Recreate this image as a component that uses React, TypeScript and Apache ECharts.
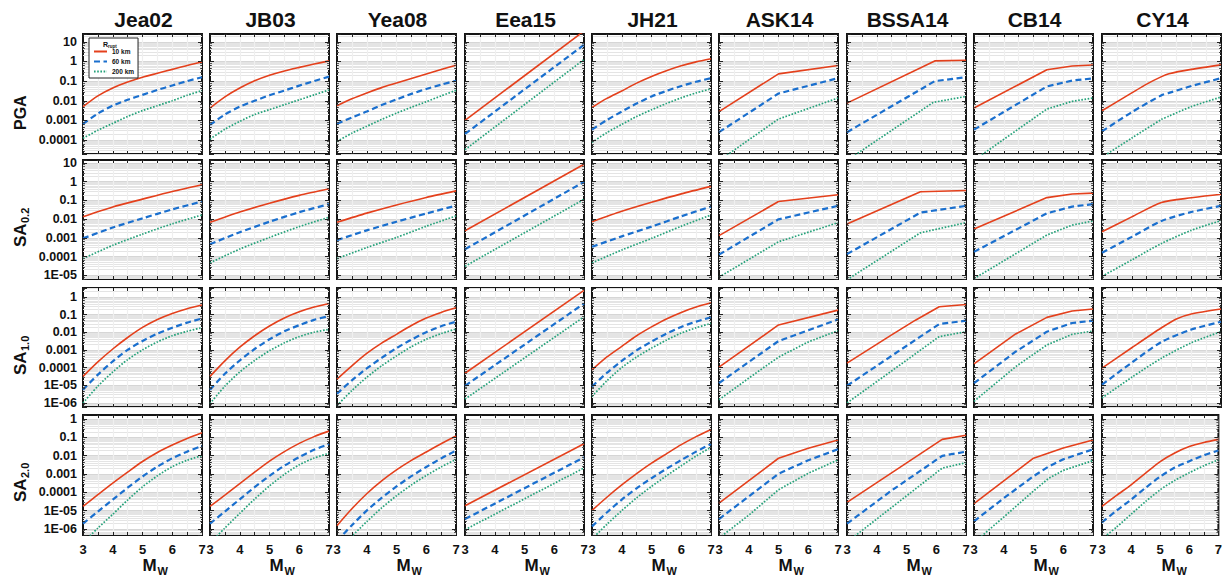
import React, { useEffect, useRef } from 'react';
import * as echarts from 'echarts';

// ---------- categories ----------
const MODELS = ['Jea02', 'JB03', 'Yea08', 'Eea15', 'JH21', 'ASK14', 'BSSA14', 'CB14', 'CY14'];
const ROW_NAMES = ['PGA', 'SA0.2', 'SA1.0', 'SA2.0'];
const DISTANCES = ['10 km', '60 km', '200 km'];
const X_TICK_LABELS = [3, 4, 5, 6, 7];
// axis extents, log10 of g
const Y_MIN_EXP = [-4.71, -5.2, -6.23, -6.33];
const Y_MAX_EXP = [1.4, 1.16, 0.5, 0.22];

// ---------- data: [Mw, log10(SA in g)] for Rrupt = 10, 60, 200 km ----------
const Jea02_PGA = [
  [[3, -2.3], [3.5, -1.75], [4, -1.35], [4.5, -1.05], [5, -0.8], [5.5, -0.6], [6, -0.4], [6.5, -0.2], [7, -0.03]],
  [[3, -3.18], [3.5, -2.65], [4, -2.25], [4.5, -1.95], [5, -1.7], [5.5, -1.45], [6, -1.22], [6.5, -1.0], [7, -0.8]],
  [[3, -3.91], [3.5, -3.5], [4, -3.15], [4.5, -2.8], [5, -2.5], [5.5, -2.25], [6, -2.0], [6.5, -1.72], [7, -1.48]],
];
const JB03_PGA = [
  [[3, -2.37], [3.5, -1.8], [4, -1.35], [4.5, -0.98], [5, -0.7], [5.5, -0.48], [6, -0.3], [6.5, -0.13], [7, 0.03]],
  [[3, -3.23], [3.5, -2.7], [4, -2.3], [4.5, -2.0], [5, -1.72], [5.5, -1.48], [6, -1.23], [6.5, -1.0], [7, -0.77]],
  [[3, -3.95], [3.5, -3.45], [4, -3.05], [4.5, -2.7], [5, -2.45], [5.5, -2.2], [6, -1.95], [6.5, -1.7], [7, -1.45]],
];
const Yea08_PGA = [
  [[3, -2.25], [3.5, -1.9], [4, -1.6], [4.5, -1.33], [5, -1.1], [5.5, -0.87], [6, -0.64], [6.5, -0.41], [7, -0.19]],
  [[3, -3.17], [3.5, -2.85], [4, -2.55], [4.5, -2.22], [5, -1.93], [5.5, -1.65], [6, -1.4], [6.5, -1.18], [7, -0.98]],
  [[3, -4.07], [3.5, -3.65], [4, -3.3], [4.5, -2.95], [5, -2.63], [5.5, -2.33], [6, -2.05], [6.5, -1.75], [7, -1.47]],
];
const Eea15_PGA = [
  [[3, -3.0], [7, 1.55]],
  [[3, -3.69], [7, 0.85]],
  [[3, -4.49], [7, 0.1]],
];
const JH21_PGA = [
  [[3, -2.34], [3.5, -1.88], [4, -1.5], [4.5, -1.1], [5, -0.76], [5.5, -0.47], [6, -0.22], [6.5, -0.02], [7, 0.14]],
  [[3, -3.47], [3.5, -2.98], [4, -2.55], [4.5, -2.14], [5, -1.78], [5.5, -1.5], [6, -1.25], [6.5, -1.03], [7, -0.85]],
  [[3, -4.12], [3.5, -3.62], [4, -3.2], [4.5, -2.8], [5, -2.46], [5.5, -2.14], [6, -1.85], [6.5, -1.6], [7, -1.39]],
];
const ASK14_PGA = [
  [[3, -2.55], [5, -0.63], [7, -0.2]],
  [[3, -3.6], [5, -1.63], [7, -0.85]],
  [[3, -5.05], [5, -2.93], [7, -1.86]],
];
const BSSA14_PGA = [
  [[3, -2.12], [5.95, 0.03], [7, 0.06]],
  [[3, -3.6], [5.95, -1.0], [7, -0.8]],
  [[3, -5.04], [5.9, -2.08], [7, -1.78]],
];
const CB14_PGA = [
  [[3, -2.37], [5.45, -0.42], [6.3, -0.23], [7, -0.18]],
  [[3, -3.47], [5.45, -1.27], [6.3, -0.97], [7, -0.86]],
  [[3, -5.03], [5.45, -2.42], [6.3, -2.03], [7, -1.86]],
];
const CY14_PGA = [
  [[3, -2.51], [4, -1.6], [4.5, -1.15], [5, -0.77], [5.25, -0.62], [6, -0.4], [7, -0.17]],
  [[3, -3.56], [4, -2.58], [5, -1.72], [5.25, -1.6], [6, -1.25], [7, -0.85]],
  [[3, -4.88], [4, -3.9], [5, -2.95], [5.25, -2.78], [6, -2.3], [7, -1.81]],
];

const Jea02_SA02 = [
  [[3, -1.87], [4, -1.35], [5, -0.93], [6, -0.52], [7, -0.16]],
  [[3, -3.03], [4, -2.45], [5, -1.96], [6, -1.48], [7, -1.06]],
  [[3, -4.11], [4, -3.4], [5, -2.8], [6, -2.25], [7, -1.78]],
];
const JB03_SA02 = [
  [[3, -2.17], [4, -1.62], [5, -1.15], [6, -0.73], [7, -0.38]],
  [[3, -3.34], [4, -2.7], [5, -2.14], [6, -1.63], [7, -1.2]],
  [[3, -4.34], [4, -3.6], [5, -2.98], [6, -2.4], [7, -1.9]],
];
const Yea08_SA02 = [
  [[3, -2.17], [4, -1.68], [5, -1.24], [6, -0.84], [7, -0.49]],
  [[3, -3.12], [4, -2.6], [5, -2.14], [6, -1.7], [7, -1.28]],
  [[3, -4.11], [4, -3.52], [5, -2.98], [6, -2.38], [7, -1.83]],
];
const Eea15_SA02 = [
  [[3, -2.62], [7, 0.93]],
  [[3, -3.61], [7, -0.01]],
  [[3, -4.52], [7, -0.94]],
];
const JH21_SA02 = [
  [[3, -2.14], [4, -1.58], [5, -1.1], [6, -0.65], [7, -0.25]],
  [[3, -3.48], [4, -2.92], [5, -2.4], [6, -1.85], [7, -1.33]],
  [[3, -4.34], [4, -3.65], [5, -3.03], [6, -2.38], [7, -1.78]],
];
const ASK14_SA02 = [
  [[3, -2.88], [5, -1.06], [7, -0.7]],
  [[3, -3.9], [5, -2.01], [7, -1.29]],
  [[3, -5.1], [5, -3.21], [7, -2.19]],
];
const BSSA14_SA02 = [
  [[3, -2.26], [5.47, -0.54], [7, -0.47]],
  [[3, -3.87], [5.47, -1.65], [7, -1.29]],
  [[3, -5.24], [5.47, -2.73], [7, -2.19]],
];
const CB14_SA02 = [
  [[3, -2.53], [5.45, -0.85], [6.3, -0.66], [7, -0.61]],
  [[3, -3.75], [5.45, -1.69], [6.3, -1.33], [7, -1.2]],
  [[3, -5.18], [5.45, -2.85], [6.3, -2.32], [7, -2.1]],
];
const CY14_SA02 = [
  [[3, -2.67], [4, -1.88], [5, -1.11], [6, -0.86], [7, -0.67]],
  [[3, -3.8], [4, -2.95], [5, -2.1], [6, -1.62], [7, -1.29]],
  [[3, -5.06], [4, -4.18], [5, -3.3], [6, -2.6], [7, -2.08]],
];

const Jea02_SA10 = [
  [[3, -4.5], [3.5, -3.68], [4, -2.95], [4.5, -2.3], [5, -1.73], [5.5, -1.28], [6, -0.94], [6.5, -0.67], [7, -0.46]],
  [[3, -5.25], [3.5, -4.4], [4, -3.65], [4.5, -3.0], [5, -2.5], [5.5, -2.08], [6, -1.75], [6.5, -1.46], [7, -1.22]],
  [[3, -6.0], [3.5, -5.05], [4, -4.25], [4.5, -3.55], [5, -3.0], [5.5, -2.55], [6, -2.2], [6.5, -1.95], [7, -1.74]],
];
const JB03_SA10 = [
  [[3, -4.5], [3.5, -3.62], [4, -2.85], [4.5, -2.2], [5, -1.65], [5.5, -1.2], [6, -0.85], [6.5, -0.58], [7, -0.38]],
  [[3, -5.25], [3.5, -4.35], [4, -3.6], [4.5, -2.95], [5, -2.4], [5.5, -1.95], [6, -1.6], [6.5, -1.3], [7, -1.09]],
  [[3, -6.04], [3.5, -5.05], [4, -4.25], [4.5, -3.6], [5, -3.05], [5.5, -2.6], [6, -2.25], [6.5, -2.0], [7, -1.84]],
];
const Yea08_SA10 = [
  [[3, -4.65], [3.5, -3.9], [4, -3.2], [4.5, -2.62], [5, -2.12], [5.5, -1.62], [6, -1.2], [6.5, -0.88], [7, -0.62]],
  [[3, -5.48], [3.5, -4.72], [4, -4.05], [4.5, -3.45], [5, -2.9], [5.5, -2.42], [6, -2.0], [6.5, -1.66], [7, -1.41]],
  [[3, -6.15], [3.5, -5.3], [4, -4.55], [4.5, -3.9], [5, -3.34], [5.5, -2.82], [6, -2.4], [6.5, -2.08], [7, -1.82]],
];
const Eea15_SA10 = [
  [[3, -4.32], [7, 0.37]],
  [[3, -5.03], [7, -0.38]],
  [[3, -5.78], [7, -1.13]],
];
const JH21_SA10 = [
  [[3, -4.13], [3.5, -3.4], [4, -2.8], [4.5, -2.2], [5, -1.7], [5.5, -1.25], [6, -0.88], [6.5, -0.58], [7, -0.34]],
  [[3, -5.07], [3.5, -4.3], [4, -3.62], [4.5, -3.03], [5, -2.53], [5.5, -2.08], [6, -1.7], [6.5, -1.4], [7, -1.16]],
  [[3, -5.63], [3.5, -4.75], [4, -4.0], [4.5, -3.4], [5, -2.9], [5.5, -2.45], [6, -2.05], [6.5, -1.75], [7, -1.5]],
];
const ASK14_SA10 = [
  [[3, -3.98], [5, -1.59], [7, -0.75]],
  [[3, -4.88], [5, -2.5], [7, -1.28]],
  [[3, -5.82], [4, -4.6], [5, -3.41], [6, -2.55], [7, -1.91]],
];
const BSSA14_SA10 = [
  [[3, -3.75], [4.5, -2.15], [5.3, -1.32], [6.1, -0.56], [7, -0.43]],
  [[3, -5.03], [4.55, -3.28], [6.1, -1.54], [7, -1.35]],
  [[3, -6.0], [4.55, -4.13], [6.1, -2.25], [7, -1.97]],
];
const CB14_SA10 = [
  [[3, -3.79], [4.4, -2.1], [5.45, -1.16], [6.3, -0.8], [7, -0.69]],
  [[3, -4.88], [4.4, -3.1], [5.45, -1.97], [6.3, -1.48], [7, -1.35]],
  [[3, -5.91], [4.4, -3.95], [5.45, -2.72], [6.3, -2.12], [7, -1.93]],
];
const CY14_SA10 = [
  [[3, -4.03], [4, -2.88], [5, -1.75], [5.5, -1.25], [6, -0.97], [7, -0.69]],
  [[3, -4.97], [4, -3.72], [5, -2.55], [6, -1.85], [7, -1.41]],
  [[3, -5.72], [4, -4.55], [5, -3.47], [6, -2.6], [7, -1.97]],
];

const Jea02_SA20 = [
  [[3, -4.77], [3.5, -4.13], [4, -3.5], [4.5, -2.9], [5, -2.32], [5.5, -1.83], [6, -1.42], [6.5, -1.06], [7, -0.75]],
  [[3, -5.71], [3.5, -5.05], [4, -4.4], [4.5, -3.75], [5, -3.14], [5.5, -2.6], [6, -2.14], [6.5, -1.78], [7, -1.47]],
  [[3, -6.75], [3.5, -5.95], [4, -5.2], [4.5, -4.42], [5, -3.7], [5.5, -3.1], [6, -2.6], [6.5, -2.25], [7, -2.0]],
];
const JB03_SA20 = [
  [[3, -4.77], [3.5, -4.15], [4, -3.52], [4.5, -2.9], [5, -2.3], [5.5, -1.78], [6, -1.33], [6.5, -0.96], [7, -0.66]],
  [[3, -5.71], [3.5, -5.05], [4, -4.38], [4.5, -3.72], [5, -3.1], [5.5, -2.55], [6, -2.08], [6.5, -1.68], [7, -1.36]],
  [[3, -6.78], [3.5, -5.95], [4, -5.15], [4.5, -4.37], [5, -3.65], [5.5, -3.02], [6, -2.5], [6.5, -2.13], [7, -1.87]],
];
const Yea08_SA20 = [
  [[3, -5.82], [3.5, -4.9], [4, -4.08], [4.5, -3.38], [5, -2.78], [5.5, -2.26], [6, -1.8], [6.5, -1.35], [7, -0.93]],
  [[3, -6.65], [3.5, -5.8], [4, -5.0], [4.5, -4.3], [5, -3.68], [5.5, -3.12], [6, -2.62], [6.5, -2.15], [7, -1.72]],
  [[3, -7.2], [3.5, -6.4], [4, -5.6], [4.5, -4.85], [5, -4.19], [5.5, -3.6], [6, -3.08], [6.5, -2.62], [7, -2.2]],
];
const Eea15_SA20 = [
  [[3, -4.73], [7, -1.35]],
  [[3, -5.46], [7, -2.09]],
  [[3, -6.04], [7, -2.67]],
];
const JH21_SA20 = [
  [[3, -4.99], [3.5, -4.27], [4, -3.6], [4.5, -2.98], [5, -2.41], [5.5, -1.9], [6, -1.4], [6.5, -0.96], [7, -0.57]],
  [[3, -5.86], [3.5, -5.1], [4, -4.4], [4.5, -3.78], [5, -3.23], [5.5, -2.72], [6, -2.24], [6.5, -1.78], [7, -1.36]],
  [[3, -6.55], [3.5, -5.75], [4, -5.0], [4.5, -4.3], [5, -3.68], [5.5, -3.1], [6, -2.55], [6.5, -2.02], [7, -1.54]],
];
const ASK14_SA20 = [
  [[3, -4.59], [5, -2.14], [6, -1.6], [7, -1.14]],
  [[3, -5.46], [5, -2.99], [6, -2.25], [7, -1.65]],
  [[3, -6.5], [4, -5.25], [5, -3.86], [6, -2.96], [7, -2.23]],
];
const BSSA14_SA20 = [
  [[3, -4.55], [6.2, -1.11], [7, -0.89]],
  [[3, -5.71], [4.5, -3.9], [6.2, -2.01], [7, -1.78]],
  [[3, -6.72], [6.2, -2.68], [7, -2.38]],
];
const CB14_SA20 = [
  [[3, -4.62], [5, -2.14], [6, -1.58], [7, -1.14]],
  [[3, -5.58], [4, -4.32], [5, -3.12], [5.5, -2.6], [6, -2.2], [7, -1.65]],
  [[3, -6.75], [4, -5.35], [5, -3.93], [5.5, -3.25], [6, -2.8], [7, -2.27]],
];
const CY14_SA20 = [
  [[3, -4.77], [3.5, -4.17], [4, -3.59], [4.5, -2.95], [5, -2.32], [5.5, -1.85], [6, -1.5], [6.5, -1.28], [7, -1.11]],
  [[3, -5.64], [3.5, -5.0], [4, -4.4], [4.5, -3.75], [5, -3.14], [5.5, -2.65], [6, -2.3], [6.5, -1.98], [7, -1.72]],
  [[3, -6.55], [3.5, -5.9], [4, -5.2], [4.5, -4.5], [5, -3.86], [5.5, -3.35], [6, -2.93], [6.5, -2.55], [7, -2.23]],
];

const PANELS = [
  [Jea02_PGA, JB03_PGA, Yea08_PGA, Eea15_PGA, JH21_PGA, ASK14_PGA, BSSA14_PGA, CB14_PGA, CY14_PGA],
  [Jea02_SA02, JB03_SA02, Yea08_SA02, Eea15_SA02, JH21_SA02, ASK14_SA02, BSSA14_SA02, CB14_SA02, CY14_SA02],
  [Jea02_SA10, JB03_SA10, Yea08_SA10, Eea15_SA10, JH21_SA10, ASK14_SA10, BSSA14_SA10, CB14_SA10, CY14_SA10],
  [Jea02_SA20, JB03_SA20, Yea08_SA20, Eea15_SA20, JH21_SA20, ASK14_SA20, BSSA14_SA20, CB14_SA20, CY14_SA20],
];

// ---------- layout / style ----------
const FONT = 'Liberation Sans, Arial, Helvetica, sans-serif';
const PANEL_LEFT = [83, 210, 337, 465, 592, 719, 847, 974, 1102];
const PANEL_W = 119;
const PANEL_TOP = [34, 160, 288, 415];
const PANEL_H = [120, 119, 119, 120];
const SMOOTH = [0.25, 0.25, 0.25, 0, 0.25, 0, 0, 0, 0.25];
const LINE_STYLES = [
  { color: '#e4401c', width: 1.6, type: 'solid' },
  { color: '#1a6fce', width: 2.2, type: [6, 3.5] },
  { color: '#25a27a', width: 1.7, type: [1.6, 1.6] },
];

const decadeLabel = (v: number) => {
  const lg = Math.log10(v);
  const e = Math.round(lg);
  if (Math.abs(lg - e) > 0.01) return '';
  if (e >= 0) return String(Math.pow(10, e));
  if (e >= -4) return Math.pow(10, e).toFixed(-e);
  return '1E-' + String(-e).padStart(2, '0');
};

function buildOption() {
  const grid: any[] = [];
  const xAxis: any[] = [];
  const yAxis: any[] = [];
  const series: any[] = [];
  const graphic: any[] = [];

  PANELS.forEach((rowData, r) => {
    rowData.forEach((panel, c) => {
      const gi = r * 9 + c;
      const yMin = Math.pow(10, Y_MIN_EXP[r]);
      const yMax = Math.pow(10, Y_MAX_EXP[r]);
      grid.push({
        left: PANEL_LEFT[c], top: PANEL_TOP[r], width: PANEL_W, height: PANEL_H[r],
        show: true, borderColor: '#151515', borderWidth: 2, backgroundColor: '#ffffff',
      });
      const xBase = {
        gridIndex: gi, type: 'value', min: 3, max: 7, interval: 0.5,
        axisLine: { show: false }, splitLine: { show: false },
        axisTick: { inside: true, length: 3, lineStyle: { color: '#222', width: 1 } },
        z: 4,
      };
      xAxis.push({
        ...xBase, position: 'bottom',
        axisLabel: {
          show: r === 3, margin: 8, color: '#111', fontSize: 13, fontWeight: 'bold', fontFamily: FONT,
          formatter: (v: number) => (X_TICK_LABELS.includes(Math.round(v * 100) / 100) ? String(Math.round(v)) : ''),
        },
      });
      xAxis.push({ ...xBase, position: 'top', axisLabel: { show: false } });
      const yBase = {
        gridIndex: gi, type: 'log', logBase: 10, min: yMin, max: yMax,
        axisLine: { show: false }, splitLine: { show: false },
        axisTick: { inside: true, length: 4, lineStyle: { color: '#222', width: 1 } },
        minorTick: { show: true, splitNumber: 5, length: 2, lineStyle: { color: '#333', width: 0.8 } },
        z: 4,
      };
      yAxis.push({
        ...yBase, position: 'left',
        axisLabel: {
          show: c === 0, margin: 6, color: '#111', fontSize: 12.5, fontWeight: 'bold', fontFamily: FONT,
          showMinLabel: false, showMaxLabel: false, formatter: decadeLabel,
        },
      });
      yAxis.push({ ...yBase, position: 'right', axisLabel: { show: false } });

      // background grid lines (minor log lines + vertical Mw lines)
      const ml: any[] = [];
      for (let e = Math.floor(Y_MIN_EXP[r]); e <= Math.ceil(Y_MAX_EXP[r]); e++) {
        for (let d = 1; d <= 9; d++) {
          const v = d * Math.pow(10, e);
          if (v > yMin && v < yMax) {
            ml.push({ yAxis: v, lineStyle: { color: d === 1 ? '#d6d6d6' : '#e4e4e4', width: 1, type: 'solid' } });
          }
        }
      }
      for (let m = 3.5; m < 7; m += 0.5) {
        ml.push({ xAxis: m, lineStyle: { color: '#efefef', width: 1.2, type: 'solid' } });
      }
      series.push({
        type: 'line', xAxisIndex: gi * 2, yAxisIndex: gi * 2, data: [], z: 1, silent: true,
        markLine: {
          silent: true, symbol: ['none', 'none'], label: { show: false }, animation: false,
          precision: 12, z: 1, data: ml,
        },
      });

      panel.forEach((line, k) => {
        series.push({
          name: DISTANCES[k], type: 'line', xAxisIndex: gi * 2, yAxisIndex: gi * 2,
          data: line.map(([m, lg]) => [m, Math.pow(10, lg)]),
          showSymbol: false, symbol: 'none', smooth: SMOOTH[c],
          lineStyle: LINE_STYLES[k], itemStyle: { color: LINE_STYLES[k].color },
          z: 3, silent: true, clip: true,
        });
      });
    });
  });

  // column titles and Mw axis titles
  MODELS.forEach((m, c) => {
    const cx = PANEL_LEFT[c] + PANEL_W / 2;
    graphic.push({
      type: 'text', x: cx + 1, y: 19,
      style: { text: m, fill: '#111', font: `bold 21px ${FONT}`, textAlign: 'center', textVerticalAlign: 'middle' },
    });
    graphic.push({
      type: 'text', x: cx + 7, y: 565,
      style: { text: 'M', fill: '#111', font: `bold 17px ${FONT}`, textAlign: 'center', textVerticalAlign: 'middle' },
    });
    graphic.push({
      type: 'text', x: cx + 15, y: 571,
      style: { text: 'W', fill: '#111', font: `bold 11px ${FONT}`, textAlign: 'left', textVerticalAlign: 'middle' },
    });
  });

  // row titles (rotated)
  const rowBottoms = [130, 247, 375, 502];
  ROW_NAMES.forEach((name, r) => {
    const children: any[] = [];
    if (name === 'PGA') {
      children.push({ type: 'text', x: 0, y: 0, style: { text: 'PGA', fill: '#111', font: `bold 16px ${FONT}`, textAlign: 'left', textVerticalAlign: 'middle' } });
    } else {
      children.push({ type: 'text', x: 0, y: 0, style: { text: 'SA', fill: '#111', font: `bold 17px ${FONT}`, textAlign: 'left', textVerticalAlign: 'middle' } });
      children.push({ type: 'text', x: 24, y: 5, style: { text: name.slice(2), fill: '#111', font: `bold 11px ${FONT}`, textAlign: 'left', textVerticalAlign: 'middle' } });
    }
    graphic.push({ type: 'group', x: 20, y: rowBottoms[r], rotation: Math.PI / 2, children });
  });

  // legend title R_rupt
  graphic.push({
    type: 'text', x: 103, y: 44, z: 100,
    style: { text: 'R', fill: '#111', font: `bold 7px ${FONT}`, textAlign: 'left', textVerticalAlign: 'middle' },
  });
  graphic.push({
    type: 'text', x: 108, y: 46, z: 100,
    style: { text: 'rupt', fill: '#111', font: `bold 4.5px ${FONT}`, textAlign: 'left', textVerticalAlign: 'middle' },
  });

  return {
    animation: false,
    backgroundColor: '#ffffff',
    textStyle: { fontFamily: FONT },
    grid, xAxis, yAxis, series,
    legend: {
      data: DISTANCES, left: 89, top: 38, orient: 'vertical',
      itemWidth: 13, itemHeight: 5, itemGap: 3, padding: [10, 4, 3, 4],
      borderColor: '#222', borderWidth: 1, backgroundColor: '#ffffff',
      itemStyle: { opacity: 0 },
      textStyle: { fontSize: 6.5, fontWeight: 'bold', color: '#111', fontFamily: FONT },
      selectedMode: false, z: 10,
    },
    graphic: { elements: graphic },
  };
}

export default function App() {
  const ref = useRef<HTMLDivElement>(null);
  useEffect(() => {
    if (!ref.current) return;
    const chart = echarts.init(ref.current, undefined, { renderer: 'svg' });
    chart.setOption(buildOption() as any);
    return () => chart.dispose();
  }, []);
  return (
    <div
      ref={ref}
      style={{ position: 'fixed', left: 0, top: 0, width: 1225, height: 581, background: '#fff' }}
    />
  );
}
